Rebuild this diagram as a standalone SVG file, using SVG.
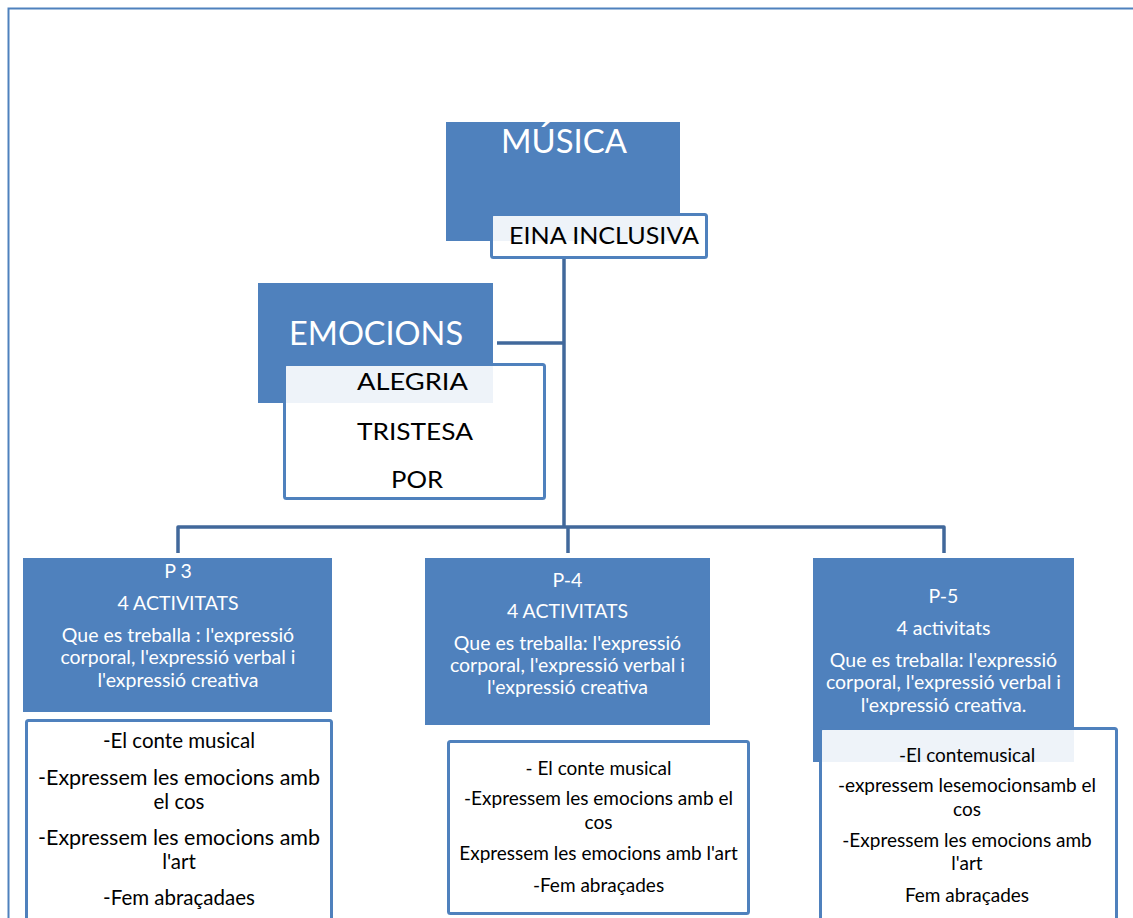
<svg xmlns="http://www.w3.org/2000/svg" width="1133" height="918" viewBox="0 0 1133 918">
<style>
.blue{fill:#4F81BD}
.wbox{fill:#ffffff;fill-opacity:0.9;stroke:#4F81BD;stroke-width:3}
.conn{fill:none;stroke:#41689B;stroke-width:3.5;stroke-linejoin:round}
text{font-family:Lato,"Open Sans",sans-serif;text-anchor:middle}
.wt{fill:#ffffff}
.bt{fill:#000000}
.big{font-size:32px}
.mid{font-size:24px}
.hd{font-size:19.5px}
.ls{font-size:20.5px}
.ls2{font-size:19px}
</style>
<rect width="1133" height="918" fill="#ffffff"/>
<path d="M8.5,918 V8.5 H1133" fill="none" stroke="#4F81BD" stroke-width="2"/>

<g id="connectors">
<path class="conn" d="M564,258 V527"/>
<path class="conn" d="M497,343 H564"/>
<path class="conn" d="M178,553 V527 H944 V553"/>
<path class="conn" d="M568,527 V553"/>
</g>

<g id="musica">
<rect class="blue" x="446" y="122" width="234" height="119"/>
<text class="wt big" x="564" y="153" textLength="126" lengthAdjust="spacingAndGlyphs">MÚSICA</text>
</g>
<g id="eina">
<rect class="wbox" x="491.5" y="214.5" width="215" height="43" rx="2"/>
<text class="bt mid" x="604" y="244" textLength="190" lengthAdjust="spacingAndGlyphs">EINA INCLUSIVA</text>
</g>

<g id="emocions">
<rect class="blue" x="258" y="283" width="235" height="120"/>
<text class="wt big" x="376" y="345" textLength="174" lengthAdjust="spacingAndGlyphs">EMOCIONS</text>
</g>
<g id="emocions-list">
<rect class="wbox" x="284.5" y="364.5" width="260" height="134" rx="2"/>
<text class="bt mid" x="412.5" y="390" textLength="111" lengthAdjust="spacingAndGlyphs">ALEGRIA</text>
<text class="bt mid" x="415" y="440" textLength="116" lengthAdjust="spacingAndGlyphs">TRISTESA</text>
<text class="bt mid" x="417" y="488" textLength="52" lengthAdjust="spacingAndGlyphs">POR</text>
</g>

<g id="p3">
<rect class="blue" x="23" y="558" width="309" height="154"/>
<text class="wt hd" x="178" y="578">P 3</text>
<text class="wt hd" x="178" y="610">4 ACTIVITATS</text>
<text class="wt hd" x="178" y="642">Que es treballa : l'expressió</text>
<text class="wt hd" x="178" y="664">corporal, l'expressió verbal i</text>
<text class="wt hd" x="178" y="687">l'expressió creativa</text>
</g>
<g id="p3-list">
<rect class="wbox" x="26.5" y="720.5" width="305" height="210" rx="2"/>
<text class="bt ls" x="179" y="748">-El conte musical</text>
<text class="bt ls" x="179" y="785" textLength="282" lengthAdjust="spacingAndGlyphs">-Expressem les emocions amb</text>
<text class="bt ls" x="179" y="809">el cos</text>
<text class="bt ls" x="179" y="845" textLength="282" lengthAdjust="spacingAndGlyphs">-Expressem les emocions amb</text>
<text class="bt ls" x="179" y="869">l'art</text>
<text class="bt ls" x="179" y="905">-Fem abraçadaes</text>
</g>

<g id="p4">
<rect class="blue" x="425" y="558" width="285" height="167"/>
<text class="wt hd" x="567.5" y="587">P-4</text>
<text class="wt hd" x="567.5" y="618">4 ACTIVITATS</text>
<text class="wt hd" x="567.5" y="650">Que es treballa: l'expressió</text>
<text class="wt hd" x="567.5" y="672">corporal, l'expressió verbal i</text>
<text class="wt hd" x="567.5" y="694">l'expressió creativa</text>
</g>
<g id="p4-list">
<rect class="wbox" x="448.5" y="741.5" width="300" height="172" rx="2"/>
<text class="bt ls2" x="598.5" y="775">- El conte musical</text>
<text class="bt ls2" x="598.5" y="805">-Expressem les emocions amb el</text>
<text class="bt ls2" x="598.5" y="829">cos</text>
<text class="bt ls2" x="598.5" y="860">Expressem les emocions amb l'art</text>
<text class="bt ls2" x="598.5" y="892">-Fem abraçades</text>
</g>

<g id="p5">
<rect class="blue" x="813" y="558" width="261" height="204"/>
<text class="wt hd" x="943.5" y="603">P-5</text>
<text class="wt hd" x="943.5" y="635">4 activitats</text>
<text class="wt hd" x="943.5" y="667">Que es treballa: l'expressió</text>
<text class="wt hd" x="943.5" y="689">corporal, l'expressió verbal i</text>
<text class="wt hd" x="943.5" y="712">l'expressió creativa.</text>
</g>
<g id="p5-list">
<rect class="wbox" x="820.5" y="728.5" width="296" height="210" rx="2"/>
<text class="bt ls2" x="967" y="762">-El contemusical</text>
<text class="bt ls2" x="967" y="792">-expressem lesemocionsamb el</text>
<text class="bt ls2" x="967" y="816">cos</text>
<text class="bt ls2" x="967" y="847">-Expressem les emocions amb</text>
<text class="bt ls2" x="967" y="870">l'art</text>
<text class="bt ls2" x="967" y="902">Fem abraçades</text>
</g>
</svg>
